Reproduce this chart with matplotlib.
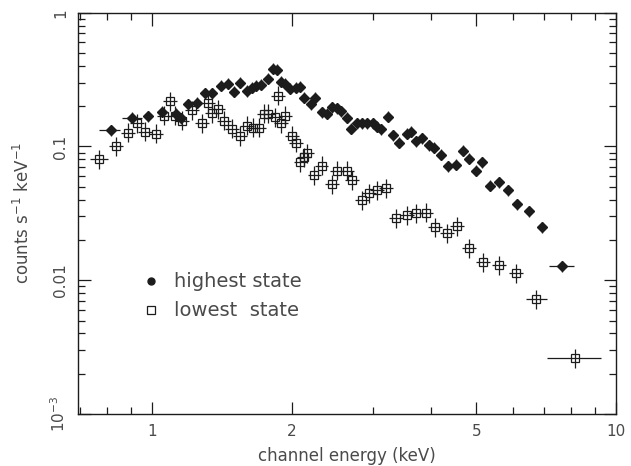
import matplotlib
matplotlib.use("Agg")
import matplotlib.pyplot as plt
from matplotlib.ticker import FixedLocator, NullFormatter

# highest state spectrum (channel energy keV, counts/s/keV)
hi_e = [0.816, 0.906, 0.98, 1.05, 1.126, 1.154, 1.195, 1.249, 1.30, 1.346,
        1.41, 1.457, 1.50, 1.546, 1.60, 1.64, 1.68, 1.72, 1.776, 1.82,
        1.86, 1.90, 1.94, 1.98, 2.04, 2.08, 2.13, 2.20, 2.25, 2.32,
        2.38, 2.44, 2.51, 2.56, 2.63, 2.69, 2.77, 2.84, 2.91, 2.99,
        3.06, 3.12, 3.22, 3.31, 3.41, 3.54, 3.62, 3.71, 3.82, 3.96,
        4.06, 4.20, 4.35, 4.53, 4.69, 4.83, 5.0, 5.15, 5.36, 5.6,
        5.86, 6.13, 6.5, 6.93, 7.65]
hi_rate = [0.132, 0.164, 0.168, 0.182, 0.176, 0.162, 0.206, 0.213, 0.249, 0.249,
           0.285, 0.295, 0.257, 0.30, 0.26, 0.276, 0.285, 0.29, 0.32, 0.38,
           0.376, 0.306, 0.295, 0.27, 0.276, 0.28, 0.232, 0.206, 0.232, 0.18,
           0.176, 0.196, 0.193, 0.183, 0.164, 0.136, 0.149, 0.149, 0.149, 0.149,
           0.141, 0.134, 0.167, 0.121, 0.107, 0.125, 0.129, 0.109, 0.115, 0.102,
           0.098, 0.087, 0.071, 0.073, 0.093, 0.081, 0.066, 0.076, 0.051, 0.054,
           0.047, 0.037, 0.0327, 0.0249, 0.0127]

# lowest state spectrum
lo_e = [0.769, 0.837, 0.888, 0.929, 0.966, 1.02, 1.06, 1.093, 1.12, 1.16,
        1.22, 1.28, 1.32, 1.35, 1.39, 1.43, 1.49, 1.55, 1.60, 1.65,
        1.70, 1.74, 1.78, 1.84, 1.87, 1.90, 1.94, 2.0, 2.04, 2.09,
        2.13, 2.16, 2.24, 2.32, 2.44, 2.51, 2.63, 2.70, 2.83, 2.94,
        3.06, 3.20, 3.36, 3.54, 3.71, 3.90, 4.08, 4.33, 4.54, 4.83,
        5.18, 5.6, 6.10, 6.73, 8.16]
lo_rate = [0.080, 0.10, 0.127, 0.149, 0.129, 0.125, 0.170, 0.217, 0.17, 0.156,
           0.186, 0.149, 0.21, 0.177, 0.19, 0.156, 0.136, 0.12, 0.143, 0.138,
           0.138, 0.176, 0.176, 0.165, 0.24, 0.149, 0.17, 0.12, 0.107, 0.076,
           0.083, 0.089, 0.061, 0.072, 0.052, 0.066, 0.066, 0.056, 0.0395, 0.0446,
           0.047, 0.0486, 0.029, 0.0305, 0.0316, 0.032, 0.0249, 0.0224, 0.0253, 0.0173,
           0.0136, 0.0129, 0.0113, 0.0072, 0.0026]

# bins that are visibly wider than the rest: index -> (lo edge, hi edge) keV
hi_wide = {0: (0.77, 0.855), 1: (0.86, 0.95), 64: (7.18, 8.10)}
lo_wide = {0: (0.735, 0.805), 53: (6.40, 7.10), 54: (7.10, 9.28)}

TXT = "#4a4a4a"
INK = "#1c1c1c"


def errs(e, r, wide, fx, fy):
    xl, xh, yl, yh = [], [], [], []
    for i, (x, y) in enumerate(zip(e, r)):
        lo, hi = wide.get(i, (x / fx, x * fx))
        xl.append(x - lo); xh.append(hi - x)
        yl.append(y - y / fy); yh.append(y * fy - y)
    return [xl, xh], [yl, yh]


plt.rcParams["font.family"] = ["DejaVu Sans"]
fig = plt.figure(figsize=(6.31, 4.66), dpi=100)
ax = fig.add_axes([0.1236, 0.1116, 0.8526, 0.8611])

xe, ye = errs(lo_e, lo_rate, lo_wide, 1.035, 1.18)
ax.errorbar(lo_e, lo_rate, xerr=xe, yerr=ye, fmt="s", ms=6.3, mfc="none", mec=INK,
            mew=0.9, ecolor=INK, elinewidth=0.9, capsize=0, zorder=3)
xe, ye = errs(hi_e, hi_rate, hi_wide, 1.02, 1.10)
ax.errorbar(hi_e, hi_rate, xerr=xe, yerr=ye, fmt="D", ms=5.2, mfc=INK, mec=INK,
            ecolor=INK, elinewidth=0.9, capsize=0, zorder=4)

ax.set_xscale("log"); ax.set_yscale("log")
ax.set_xlim(0.693, 10); ax.set_ylim(1e-3, 1)

ax.xaxis.set_major_locator(FixedLocator([1, 2, 5, 10]))
ax.xaxis.set_minor_locator(FixedLocator([0.7, 0.8, 0.9, 3, 4, 6, 7, 8, 9]))
ax.xaxis.set_minor_formatter(NullFormatter())
ax.set_xticklabels(["1", "2", "5", "10"])
ax.yaxis.set_major_locator(FixedLocator([1e-3, 1e-2, 0.1, 1]))
ax.yaxis.set_minor_locator(FixedLocator([k * 10.0 ** d for d in (-3, -2, -1) for k in range(2, 10)]))
ax.yaxis.set_minor_formatter(NullFormatter())
ax.set_yticklabels(["$10^{-3}$", "0.01", "0.1", "1"], rotation=90, va="center")

ax.tick_params(which="both", direction="in", top=True, right=True, colors=INK,
               labelcolor=TXT, labelsize=11, width=0.9)
ax.tick_params(which="major", length=9, pad=7)
ax.tick_params(which="minor", length=5)
for s in ax.spines.values():
    s.set_color(INK); s.set_linewidth(1.0)

ax.set_xlabel("channel energy (keV)", fontsize=12, color=TXT, labelpad=6)
ax.set_ylabel("counts s$^{-1}$ keV$^{-1}$", fontsize=12, color=TXT, labelpad=12)

# hand-placed key like the original
ax.plot([0.1357], [0.331], "o", ms=5, color=INK, transform=ax.transAxes, clip_on=False)
ax.plot([0.1357], [0.259], "s", ms=6, mfc="none", mec=INK, mew=0.9,
        transform=ax.transAxes, clip_on=False)
ax.text(0.178, 0.331, "highest state", transform=ax.transAxes, fontsize=14,
        color=TXT, va="center")
ax.text(0.178, 0.259, "lowest  state", transform=ax.transAxes, fontsize=14,
        color=TXT, va="center")

fig.savefig("out.png", dpi=100)
